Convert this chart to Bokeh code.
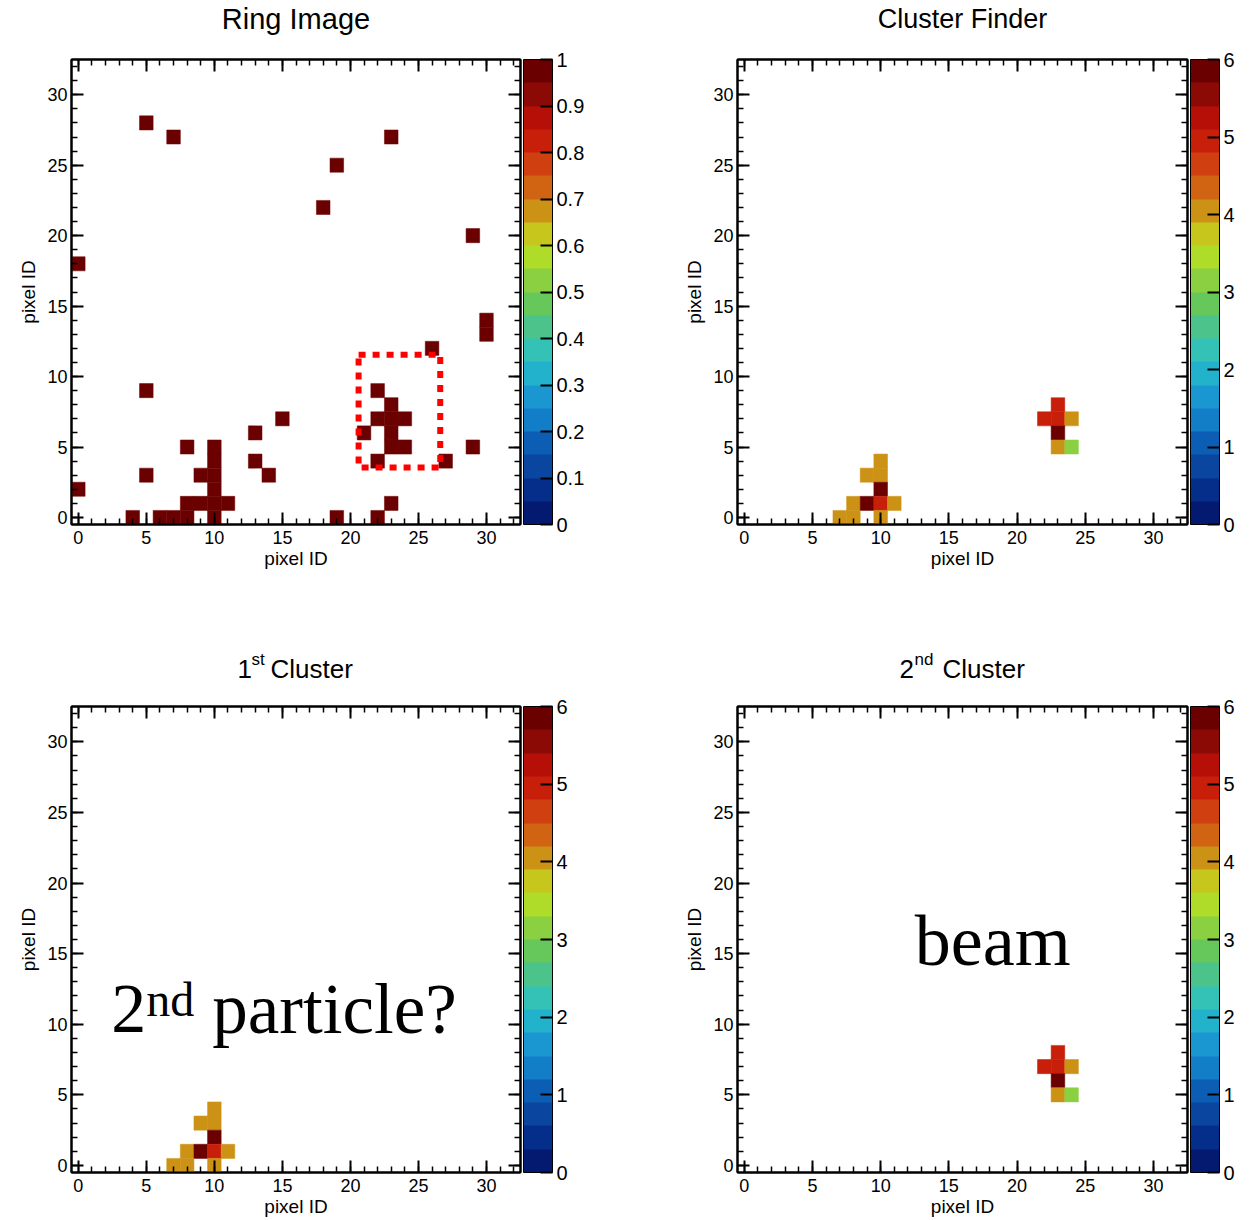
from bokeh.plotting import figure
from bokeh.models import (Range1d, LinearAxis, SingleIntervalTicker, FixedTicker,
                          ColorBar, LinearColorMapper, Label, ColumnDataSource)
from bokeh.layouts import column, row
from bokeh.core.properties import value
from bokeh.embed import file_html
from bokeh.resources import INLINE

# ---------------- data ----------------
palette = ["#031a70", "#052d8a", "#0a45a0", "#0c5eb4", "#137ec8", "#1a96d0",
           "#22b2cc", "#34c2b6", "#4cc38a", "#66c75a", "#8ad040", "#aedc28",
           "#c6c61c", "#cc9215", "#d06412", "#cf3f0f", "#c81f0a", "#b50f08",
           "#8c0a05", "#6b0000"]

ring_x = [5, 7, 23, 19, 18, 29, 0, 30, 30, 26, 5, 22, 23, 15, 22, 23, 24, 13, 21, 23,
          8, 10, 23, 24, 29, 10, 13, 22, 27, 5, 9, 10, 14, 0, 10, 8, 9, 10, 11, 23,
          4, 6, 7, 8, 10, 19, 22]
ring_y = [28, 27, 27, 25, 22, 20, 18, 14, 13, 12, 9, 9, 8, 7, 7, 7, 7, 6, 6, 6,
          5, 5, 5, 5, 5, 4, 4, 4, 4, 3, 3, 3, 3, 2, 2, 1, 1, 1, 1, 1,
          0, 0, 0, 0, 0, 0, 0]
ring_v = [1, 1, 1, 1, 1, 1, 1, 1, 1, 1, 1, 1, 1, 1, 1, 1, 1, 1, 1, 1,
          1, 1, 1, 1, 1, 1, 1, 1, 1, 1, 1, 1, 1, 1, 1, 1, 1, 1, 1, 1,
          1, 1, 1, 1, 1, 1, 1]

cluster1_x = [10, 9, 10, 10, 8, 9, 10, 11, 7, 8, 10]
cluster1_y = [4, 3, 3, 2, 1, 1, 1, 1, 0, 0, 0]
cluster1_v = [4, 4, 4, 6, 4, 6, 5, 4, 4, 4, 4]

cluster2_x = [23, 22, 23, 24, 23, 23, 24]
cluster2_y = [8, 7, 7, 7, 6, 5, 5]
cluster2_v = [5, 5, 5, 4, 6, 4, 3]

box_left = [20.6]
box_right = [26.6]
box_bottom = [3.55]
box_top = [11.55]

ring_ticks = [0, 0.1, 0.2, 0.3, 0.4, 0.5, 0.6, 0.7, 0.8, 0.9, 1]
ring_tick_labels = ["0", "0.1", "0.2", "0.3", "0.4", "0.5", "0.6", "0.7", "0.8", "0.9", "1"]
cluster_ticks = [0, 1, 2, 3, 4, 5, 6]
cluster_tick_labels = ["0", "1", "2", "3", "4", "5", "6"]

axis_range = [-0.5, 32.5]

titles = ["Ring Image", "Cluster Finder"]
title3_parts = ["1", "st", "Cluster"]
title4_parts = ["2", "nd", "Cluster"]

FONT = "Liberation Sans"
SERIF = "Liberation Serif"


def make_panel(w, h, bl, br, bt, bb, mapper, cb_ticks, cb_labels):
    p = figure(width=w, height=h,
               x_range=Range1d(axis_range[0], axis_range[1]),
               y_range=Range1d(axis_range[0], axis_range[1]),
               output_backend="svg", toolbar_location=None,
               min_border_left=bl, min_border_right=br,
               min_border_top=bt, min_border_bottom=bb,
               x_axis_location=None, y_axis_location=None)
    p.grid.visible = False
    p.outline_line_color = "black"
    p.outline_line_width = 2
    p.background_fill_color = "white"
    p.border_fill_color = "white"
    for loc in ["below", "left", "above", "right"]:
        ax = LinearAxis(ticker=SingleIntervalTicker(interval=5, num_minor_ticks=5))
        ax.axis_line_color = "black"
        ax.axis_line_width = 2
        ax.major_tick_in = 12
        ax.major_tick_out = 0
        ax.minor_tick_in = 6
        ax.minor_tick_out = 0
        ax.major_tick_line_color = "black"
        ax.minor_tick_line_color = "black"
        ax.major_tick_line_width = 2
        ax.minor_tick_line_width = 1.5
        if loc in ("below", "left"):
            ax.axis_label = "pixel ID"
            ax.axis_label_text_font = FONT
            ax.axis_label_text_font_style = "normal"
            ax.axis_label_text_font_size = "19px"
            ax.axis_label_text_color = "black"
            ax.major_label_text_font = FONT
            ax.major_label_text_font_size = "18px"
            ax.major_label_text_color = "black"
            if loc == "below":
                ax.major_label_standoff = 6
                ax.axis_label_standoff = 1
            else:
                ax.major_label_standoff = 4
                ax.axis_label_standoff = 5
        else:
            ax.major_label_text_font_size = "1px"
            ax.major_label_text_color = None
            ax.major_label_standoff = 0
            ax.axis_label_standoff = 0
        p.add_layout(ax, loc)

    # invisible spacer between the frame and the palette
    spacer = LinearAxis(ticker=SingleIntervalTicker(interval=5, num_minor_ticks=0),
                        axis_line_color=None, major_tick_line_color=None,
                        minor_tick_line_color=None, major_label_text_color=None,
                        major_label_text_font_size="1px", major_label_standoff=0,
                        major_tick_in=0, major_tick_out=3, minor_tick_in=0, minor_tick_out=0)
    p.add_layout(spacer, "right")

    cb = ColorBar(color_mapper=mapper,
                  ticker=FixedTicker(ticks=cb_ticks, minor_ticks=[]),
                  major_label_overrides=dict(zip(cb_ticks, cb_labels)),
                  width=29, margin=0, padding=0, label_standoff=4,
                  major_tick_in=12, major_tick_out=0,
                  major_tick_line_color="black", major_tick_line_width=2,
                  minor_tick_line_color=None, bar_line_color="black", bar_line_width=1,
                  border_line_color=None, background_fill_color=None,
                  major_label_text_font=FONT, major_label_text_font_size="20px",
                  major_label_text_color="black")
    p.add_layout(cb, "right")
    return p


def make_strip(w, h):
    t = figure(width=w, height=h, x_range=Range1d(0, w), y_range=Range1d(0, h),
               output_backend="svg", toolbar_location=None,
               min_border_left=0, min_border_right=0, min_border_top=0, min_border_bottom=0,
               x_axis_location=None, y_axis_location=None)
    t.grid.visible = False
    t.outline_line_color = None
    t.background_fill_color = "white"
    t.border_fill_color = "white"
    return t


def add_cells(p, xs, ys, vs, mapper):
    src = ColumnDataSource(dict(x=xs, y=ys, v=vs))
    p.rect(x="x", y="y", width=1, height=1, source=src,
           fill_color={"field": "v", "transform": mapper},
           line_color={"field": "v", "transform": mapper}, line_width=0.5)


ring_mapper = LinearColorMapper(palette=palette, low=0, high=1)
cl_mapper = LinearColorMapper(palette=palette, low=0, high=6)

# ---- title strips ----
t1 = make_strip(627, 40)
t1.text(x=[295.5], y=[22], text=[titles[0]], text_font=value(FONT), text_font_size="29px",
        text_align="center", text_baseline="middle", text_color="black")
t2 = make_strip(628, 40)
t2.text(x=[335], y=[22], text=[titles[1]], text_font=value(FONT), text_font_size="27px",
        text_align="center", text_baseline="middle", text_color="black")

t3 = make_strip(627, 88)
t3.text(x=[237, 270], y=[18, 18], text=[title3_parts[0], title3_parts[2]],
        text_font=value(FONT), text_font_size="26px",
        text_align="left", text_baseline="middle", text_color="black")
t3.text(x=[251], y=[27], text=[title3_parts[1]], text_font=value(FONT), text_font_size="17px",
        text_align="left", text_baseline="middle", text_color="black")

t4 = make_strip(628, 88)
t4.text(x=[272, 315], y=[18, 18], text=[title4_parts[0], title4_parts[2]],
        text_font=value(FONT), text_font_size="26px",
        text_align="left", text_baseline="middle", text_color="black")
t4.text(x=[287], y=[27], text=[title4_parts[1]], text_font=value(FONT), text_font_size="17px",
        text_align="left", text_baseline="middle", text_color="black")

# ---- panel 1: Ring Image ----
p1 = make_panel(627, 558, 71, 107, 19, 74, ring_mapper, ring_ticks, ring_tick_labels)
add_cells(p1, ring_x, ring_y, ring_v, ring_mapper)
p1.quad(left=box_left, right=box_right, bottom=box_bottom, top=box_top,
        fill_color=None, line_color="#ff0000", line_width=6, line_dash="7 7")

# ---- panel 2: Cluster Finder ----
p2 = make_panel(628, 558, 110, 68, 19, 74, cl_mapper, cluster_ticks, cluster_tick_labels)
add_cells(p2, cluster1_x + cluster2_x, cluster1_y + cluster2_y, cluster1_v + cluster2_v, cl_mapper)

# ---- panel 3: 1st Cluster ----
p3 = make_panel(627, 534, 71, 107, 20, 48, cl_mapper, cluster_ticks, cluster_tick_labels)
add_cells(p3, cluster1_x, cluster1_y, cluster1_v, cl_mapper)
p3.add_layout(Label(x=2.43, y=11.1, text="2", text_font=SERIF, text_font_size="70px",
                    text_baseline="middle", text_color="black"))
p3.add_layout(Label(x=5.0, y=11.75, text="nd", text_font=SERIF, text_font_size="48px",
                    text_baseline="middle", text_color="black"))
p3.add_layout(Label(x=9.85, y=11.1, text="particle?", text_font=SERIF, text_font_size="71px",
                    text_baseline="middle", text_color="black"))

# ---- panel 4: 2nd Cluster ----
p4 = make_panel(628, 534, 110, 68, 20, 48, cl_mapper, cluster_ticks, cluster_tick_labels)
add_cells(p4, cluster2_x, cluster2_y, cluster2_v, cl_mapper)
p4.add_layout(Label(x=12.5, y=15.87, text="beam", text_font=SERIF, text_font_size="72px",
                    text_baseline="middle", text_color="black"))

layout = column(row(t1, t2), row(p1, p2), row(t3, t4), row(p3, p4))
open("out.html", "w").write(file_html(layout, INLINE))
